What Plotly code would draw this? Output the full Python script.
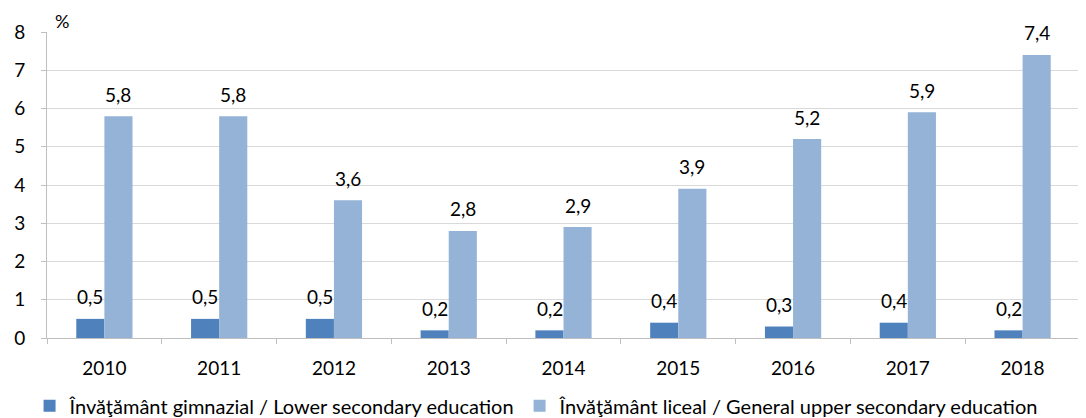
import plotly.graph_objects as go

years = ["2010", "2011", "2012", "2013", "2014", "2015", "2016", "2017", "2018"]
lower_secondary = [0.5, 0.5, 0.5, 0.2, 0.2, 0.4, 0.3, 0.4, 0.2]
upper_secondary = [5.8, 5.8, 3.6, 2.8, 2.9, 3.9, 5.2, 5.9, 7.4]
name_lower = "Învăţământ gimnazial / Lower secondary education"
name_upper = "Învăţământ liceal / General upper secondary education"
y_ticks = [0, 1, 2, 3, 4, 5, 6, 7, 8]

font_family = "Lato, Open Sans, Noto Sans, sans-serif"

fig = go.Figure()
fig.add_trace(go.Bar(
    x=years, y=lower_secondary, name=name_lower,
    marker=dict(color="#4F81BD", line=dict(width=0)),
))
fig.add_trace(go.Bar(
    x=years, y=upper_secondary, name=name_upper,
    marker=dict(color="#95B3D7", line=dict(width=0)),
))

# data labels above each bar (placed via the axes' scales: category index, shifted by half a bar)
annotations = []
for series, shift in ((lower_secondary, -14), (upper_secondary, 14)):
    for i, v in enumerate(series):
        annotations.append(dict(
            x=i, y=v, xref="x", yref="y", text=f"{v:.1f}".replace(".", ","),
            showarrow=False, xshift=shift, yshift=22, yanchor="middle",
            font=dict(size=19, color="#000000"),
        ))
annotations.append(dict(text="%", x=0.0, xref="paper", xanchor="left", xshift=6,
                        y=1.0, yref="paper", yanchor="bottom", yshift=-2,
                        showarrow=False, font=dict(size=18)))

# page body has an 8px margin: figure is sized/positioned to compensate
fig.update_layout(
    width=1078, height=410,
    margin=dict(l=35, r=6, t=24, b=80),
    barmode="group", bargap=0.51, bargroupgap=0,
    separators=",.",
    plot_bgcolor="white", paper_bgcolor="white",
    font=dict(family=font_family, size=19, color="#000000"),
    showlegend=True,
    legend=dict(orientation="h", x=0.02, xref="container", y=0.03, yref="container",
                xanchor="left", yanchor="middle",
                font=dict(size=20), traceorder="normal", itemsizing="constant"),
    annotations=annotations,
)
fig.update_xaxes(
    type="category", categoryorder="array", categoryarray=years,
    showline=True, linecolor="#BFBFBF", linewidth=1,
    ticks="outside", tickson="boundaries", ticklen=5, tickcolor="#BFBFBF",
    showgrid=False, tickfont=dict(size=19), ticklabelstandoff=13, tickangle=0,
)
fig.update_yaxes(
    range=[0, 8], tickvals=y_ticks, showline=True, linecolor="#BFBFBF", linewidth=1,
    ticks="outside", ticklen=5, tickcolor="#BFBFBF",
    showgrid=True, gridcolor="#D9D9D9", gridwidth=1, zeroline=False,
    tickfont=dict(size=19), ticklabelstandoff=12,
)

fig.write_html("out.html")
